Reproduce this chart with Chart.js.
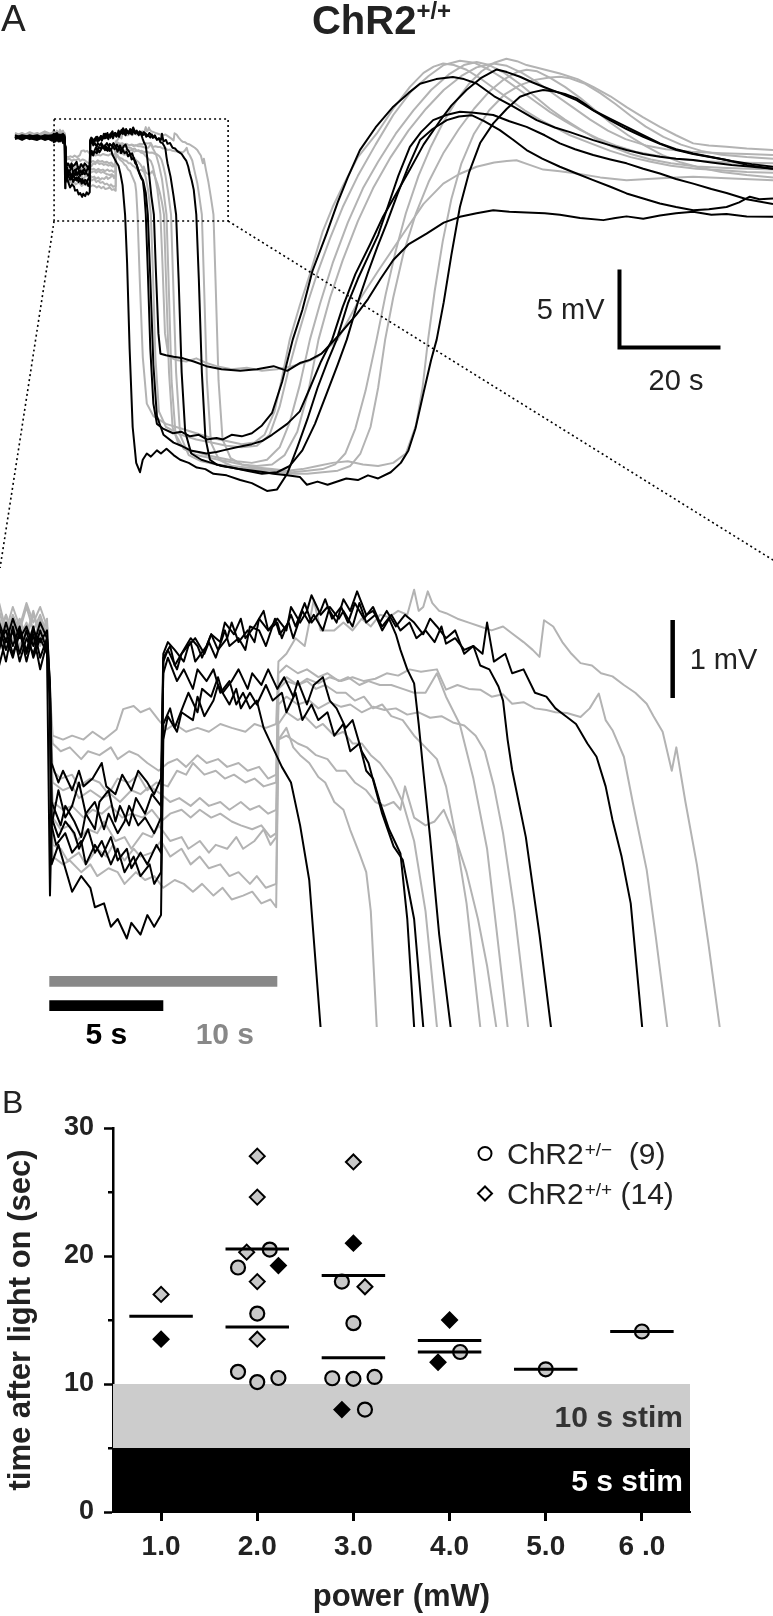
<!DOCTYPE html>
<html>
<head>
<meta charset="utf-8">
<script src="https://cdn.jsdelivr.net/npm/chart.js"></script>
<style>
  html, body { margin: 0; padding: 0; background: #fff; }
  #page { position: relative; width: 773px; height: 1616px; overflow: hidden; font-family: "Liberation Sans", Arial, sans-serif; color: #222; }
  canvas { position: absolute; left: 0; }
  .txt { position: absolute; line-height: 1; white-space: nowrap; }
</style>
</head>
<body>
<div id="page">
  <canvas id="tracesChart" width="773" height="1060" style="top:0"></canvas>
  <canvas id="latencyChart" width="773" height="536" style="top:1080px"></canvas>
  <div class="txt" style="left:1px; top:0; font-size:37px">A</div>
  <div class="txt" style="left:0; top:0; width:763px; text-align:center; font-size:40px; font-weight:bold">ChR2<span style="font-size:24px; position:relative; top:-15px">+/+</span></div>
  <div class="txt" style="left:2px; top:1086px; font-size:32px">B</div>
</div>
<script>
const FONT = '"Liberation Sans", Arial, sans-serif';
Chart.defaults.font.family = FONT;
Chart.defaults.color = '#222';

// ---- panel A: membrane potential traces, [time (s) after light on, mV] ----
// black = 5 s stimulation, grey = 10 s stimulation
const black1 = [[-9.9,0.1],[-8.5,-0.1],[-7,0.15],[-5.5,0.0],[-4,0.1],[-2.6,-0.1],[-2.2,0.15],[-1.9,-0.2],[-1.6,0.25],[-1.3,-0.1],[-1.0,0.2],[-0.7,-0.15],[-0.4,0.1],[-0.1,-0.1],
  [0.03,-3.2],[0.1,-2.3],[0.4,-1.85],[0.7,-2.2],[1.0,-2.05],[1.3,-1.75],[1.6,-2.15],[2.0,-2.35],[2.2,-2.0],[2.6,-1.85],[2.9,-2.25],[3.1,-2.05],[3.5,-2.3],[3.8,-1.95],[4.2,-2.15],[4.5,-1.9],[4.9,-2.05],
  [5.0,-0.35],[5.2,-0.15],[5.6,-0.45],[5.9,-0.3],[6.3,-0.55],[6.5,-0.3],[6.9,-0.45],[7.2,-0.3],[7.5,-0.6],[7.9,-0.45],[8.2,-0.75],[8.5,-0.6],[8.8,-0.8],[9.1,-0.7],[9.4,-1.05],[9.8,-1.3],[10.2,-1.55],[10.6,-1.75],[11.0,-2.3],[11.4,-3.0],[11.9,-4.9],
  [12.3,-8.0],[12.8,-13.5],[13.4,-18.5],[14.1,-20.8],[14.85,-21.4],[15.4,-20.6],[16.2,-20.2],[17.0,-20.4],[18.2,-20.0],[19.0,-20.2],[20.1,-19.9],[21.5,-20.3],[22.8,-20.6],[24.5,-20.8],[26.1,-21.1],[27.8,-21.2],[29.4,-21.5],[32,-21.6],[34.7,-21.9],[37,-22.1],[40,-22.6],[42,-22.5],[44,-21.5],[46,-19.8],[48,-18.0],[50,-16.0],[52,-14.3],[53.8,-12.9],[56,-10.6],[58,-9.0],[60,-7.6],[62,-6.2],[64,-4.3],[66,-2.4],[68.3,-0.54],[70.5,0.4],[72.9,1.17],[75.5,1.5],[78.2,1.71],[81,1.65],[84.8,1.5],[88,1.1],[91.4,0.74],[95,0.2],[98,-0.32],[101,-0.7],[104.6,-1.07],[108,-1.35],[111.2,-1.6],[114.5,-1.95],[117.8,-2.25],[121,-2.6],[124.4,-2.9],[128,-3.25],[131,-3.5],[135,-3.9],[140.2,-4.2]];
const black2 = [[-9.9,0.0],[-8.5,0.15],[-7,-0.05],[-5.5,0.1],[-4,-0.1],[-2.6,0.05],[-2.2,-0.25],[-1.9,0.1],[-1.6,-0.15],[-1.3,0.2],[-1.0,-0.2],[-0.7,0.15],[-0.4,-0.3],[-0.1,0.05],
  [0.03,-0.8],[0.1,-2.8],[0.4,-2.55],[0.8,-2.95],[1.0,-3.15],[1.4,-2.95],[1.8,-3.1],[2.0,-3.35],[2.4,-3.3],[2.7,-3.6],[3.0,-3.5],[3.4,-3.75],[3.6,-3.55],[4.0,-3.7],[4.3,-3.45],[4.6,-3.6],[4.9,-3.45],
  [5.0,-1.2],[5.2,-0.9],[5.6,-1.1],[5.8,-0.85],[6.3,-0.95],[6.5,-0.65],[6.8,-0.9],[7.2,-0.7],[7.4,-0.5],[7.9,-0.75],[8.2,-0.55],[8.4,-0.8],[8.8,-0.6],[9.1,-0.75],[9.5,-0.5],[9.8,-0.7],[10.2,-0.6],[10.4,-0.85],[10.8,-0.6],[11.1,-0.95],[11.5,-0.75],[11.8,-0.95],[12.2,-0.85],[12.5,-1.15],[12.9,-1.0],[13.2,-1.35],[13.6,-1.25],[13.9,-1.6],[14.2,-1.7],[14.5,-2.0],[14.9,-2.35],[15.4,-2.66],[15.7,-3.5],[16.0,-4.88],
  [16.4,-8.5],[16.9,-13.5],[17.5,-17.0],[18.2,-18.3],[19.4,-18.6],[21.4,-18.9],[23,-18.8],[24.75,-19.1],[26.5,-19.0],[28.1,-19.3],[30,-19.2],[31.3,-19.3],[33,-19.0],[35,-19.1],[37,-18.9],[39,-18.4],[41,-17.6],[43,-15.6],[45.1,-12.9],[47,-11.0],[49,-8.5],[51.8,-6.1],[54,-4.1],[56,-2.5],[58.4,-0.75],[61.5,0.7],[65,2.03],[68,2.9],[70.3,3.5],[73.5,3.8],[76.8,3.93],[79,3.8],[81.5,3.52],[85,2.7],[88.8,2.03],[93.4,1.17],[97,0.7],[100,0.4],[104.6,-0.11],[108,-0.45],[111.2,-0.75],[114.5,-1.0],[117.8,-1.18],[121,-1.3],[124.4,-1.39],[128,-1.55],[132,-1.7],[135.5,-1.8],[140.2,-1.95]];
const black3 = [[-9.9,0.2],[-8.5,0.05],[-7,0.1],[-5.5,0.2],[-4,0.0],[-2.6,0.15],[-2.2,0.3],[-1.9,0.05],[-1.6,0.35],[-1.3,0.1],[-1.0,0.25],[-0.7,0.0],[-0.4,0.3],[-0.1,0.1],
  [0.03,-0.5],[0.1,-1.5],[0.4,-1.75],[0.6,-1.6],[1.0,-1.85],[1.3,-1.6],[1.5,-1.8],[1.9,-1.7],[2.3,-1.5],[2.5,-1.8],[2.9,-1.9],[3.2,-1.65],[3.6,-1.85],[3.9,-1.6],[4.3,-1.75],[4.6,-1.9],[4.9,-1.7],
  [5.0,-0.1],[5.2,0.05],[5.5,-0.05],[5.9,-0.2],[6.1,0.0],[6.4,0.1],[6.8,-0.1],[7.0,0.05],[7.3,-0.15],[7.7,0.2],[7.9,0.0],[8.3,0.1],[8.6,-0.05],[8.8,0.25],[9.2,0.2],[9.5,0.0],[9.9,0.35],[10.1,0.15],[10.5,0.3],[10.7,0.1],[11.1,0.45],[11.4,0.3],[11.6,0.4],[12.0,0.2],[12.3,0.5],[12.7,0.35],[12.9,0.45],[13.3,0.25],[13.6,0.55],[13.9,0.3],[14.3,0.4],[14.6,0.2],[14.9,0.35],[15.2,0.15],[15.4,-0.05],[15.7,-0.3],[16.0,-0.48],[16.2,-1.0],[16.4,-1.59],[16.7,-2.45],[17.1,-3.7],[17.6,-4.88],
  [18.0,-8.5],[18.5,-12.5],[18.9,-13.8],[20,-13.9],[21.5,-14.0],[23.4,-14.1],[25.5,-14.3],[28,-14.6],[31,-14.8],[34.7,-14.9],[38,-14.8],[41.3,-14.6],[44,-14.9],[46.5,-14.4],[48.5,-14.2],[50.8,-13.8],[54,-12.7],[57.7,-11.3],[60,-10.3],[62.5,-9.0],[65,-7.8],[68,-6.8],[71.6,-6.1],[75,-5.4],[78.2,-5.03],[81.5,-4.8],[84.8,-4.6],[88,-4.7],[91.4,-4.75],[95,-4.8],[98,-4.9],[102,-5.1],[106.6,-5.24],[109,-5.1],[111.2,-5.0],[114.5,-5.15],[117.8,-4.95],[121,-4.8],[124.4,-4.7],[128,-4.9],[131,-4.85],[135,-5.0],[140.2,-5.03]];
const black4 = [[-9.9,-0.05],[-8.5,0.1],[-7,0.0],[-5.5,-0.1],[-4,0.1],[-2.6,-0.15],[-2.2,0.05],[-1.9,0.2],[-1.6,-0.1],[-1.3,0.15],[-1.0,-0.05],[-0.7,0.25],[-0.4,-0.15],[-0.1,0.1],
  [0.03,-0.6],[0.1,-2.2],[0.4,-2.45],[0.7,-2.25],[1.1,-2.4],[1.3,-2.6],[1.7,-2.35],[2.0,-2.65],[2.3,-2.5],[2.7,-2.8],[3.0,-2.6],[3.3,-2.9],[3.7,-2.7],[4.0,-2.95],[4.4,-2.8],[4.6,-3.05],[4.9,-2.9],
  [5.0,-1.0],[5.3,-0.8],[5.5,-1.05],[5.9,-0.75],[6.1,-0.6],[6.5,-0.85],[6.7,-0.55],[7.1,-0.65],[7.4,-0.4],[7.6,-0.6],[8.0,-0.45],[8.3,-0.3],[8.7,-0.55],[8.9,-0.35],[9.3,-0.5],[9.6,-0.3],[10.0,-0.55],[10.3,-0.4],[10.7,-0.65],[10.9,-0.45],[11.3,-0.75],[11.6,-0.5],[12.0,-0.4],[12.3,-0.7],[12.6,-0.8],[13.0,-1.05],[13.3,-0.95],[13.7,-1.35],[14.0,-1.5],[14.6,-2.15],[15.1,-2.57],[15.5,-2.74],[16.0,-3.5],[16.4,-4.88],
  [16.9,-9.0],[17.5,-14.5],[18.2,-17.8],[19.5,-19.0],[21.5,-19.5],[23,-19.7],[24.8,-20.0],[26.5,-20.1],[28,-20.2],[30,-20.1],[31.3,-20.0],[34,-19.8],[37,-19.6],[39,-19.4],[41,-19.0],[44,-18.3],[46.5,-17.5],[48.5,-16.0],[50.7,-14.3],[52.9,-12.9],[55,-10.8],[57.5,-8.7],[60.4,-6.8],[63,-5.0],[65.5,-3.6],[68.3,-2.0],[71,-0.4],[74.2,1.1],[76.5,2.1],[79.5,3.1],[82.5,3.9],[85.5,4.42],[87.5,4.25],[90.1,3.95],[92.5,3.6],[94.7,3.31],[98,2.9],[101.3,2.45],[104.6,1.8],[107.9,1.17],[111.2,0.6],[114.5,0.1],[117.8,-0.35],[121.1,-0.75],[124.4,-1.0],[127.7,-1.2],[131,-1.39],[135,-1.7],[140.2,-1.95]];
const black5 = [[-9.9,0.1],[-8.5,0.0],[-7,0.2],[-5.5,0.05],[-4,0.15],[-2.6,0.2],[-2.2,-0.05],[-1.9,0.3],[-1.6,0.0],[-1.3,0.25],[-1.0,-0.1],[-0.7,0.2],[-0.4,0.05],[-0.1,0.2],
  [0.03,-0.5],[0.1,-2.0],[0.5,-2.3],[0.7,-2.05],[1.1,-2.25],[1.4,-2.45],[1.6,-2.15],[2.0,-2.0],[2.4,-2.35],[2.6,-2.15],[3.0,-2.4],[3.3,-2.25],[3.5,-2.05],[3.9,-2.3],[4.2,-2.2],[4.6,-2.4],[4.9,-2.2],
  [5.0,-0.2],[5.2,-0.05],[5.6,-0.3],[5.8,-0.1],[6.2,0.05],[6.4,-0.2],[6.9,0.0],[7.1,0.15],[7.4,-0.05],[7.8,0.1],[8.0,0.3],[8.3,0.05],[8.7,0.2],[9.0,0.05],[9.2,0.35],[9.6,0.2],[10.0,0.3],[10.2,0.1],[10.6,0.4],[10.8,0.25],[11.2,0.55],[11.5,0.3],[11.9,0.45],[12.1,0.6],[12.4,0.35],[12.8,0.5],[13.1,0.3],[13.4,0.55],[13.8,0.35],[14.2,0.5],[14.5,0.3],[14.8,0.45],[15.2,0.25],[15.6,0.4],[16.0,0.3],[16.4,0.15],[16.7,0.35],[17.0,0.25],[17.4,0.1],[17.8,0.2],[18.2,-0.1],[18.6,0.0],[18.9,-0.25],[19.3,-0.3],[19.7,-0.52],[19.9,-0.7],[20.1,-1.2],[20.3,-1.59],[20.9,-2.45],[21.5,-3.7],[22.0,-4.88],
  [22.5,-9.0],[23.1,-15.0],[23.8,-18.8],[25,-20.2],[27,-20.6],[29,-20.8],[31,-21.0],[33,-21.1],[36,-21.3],[39,-21.5],[42,-21.4],[44.5,-21.0],[47,-20.0],[49.5,-18.3],[52,-16.2],[54,-14.5],[55.8,-12.9],[58,-10.5],[60,-8.6],[61.8,-7.0],[63.7,-5.45],[65.8,-3.6],[68,-1.8],[70.3,-0.11],[72.8,0.6],[75.6,1.17],[78,1.4],[80.5,1.49],[83,1.1],[86.1,0.53],[88.8,-0.1],[91.4,-0.75],[94.5,-1.3],[98,-1.82],[101.3,-2.25],[104.6,-2.68],[108,-3.1],[111.2,-3.53],[114.5,-3.85],[117.8,-4.17],[121,-4.4],[124.4,-4.6],[127.5,-4.55],[131,-4.4],[133.5,-4.1],[135.6,-3.74],[137.5,-3.9],[140.2,-3.85]];
const black6 = [[-9.9,0.05],[-8.5,0.2],[-7,0.1],[-5.5,0.0],[-4,0.2],[-2.6,0.1],[-2.2,0.25],[-1.9,-0.05],[-1.6,0.2],[-1.3,-0.2],[-1.0,0.1],[-0.7,-0.1],[-0.4,0.2],[-0.1,-0.05],
  [0.03,-0.6],[0.1,-2.3],[0.3,-2.55],[0.7,-2.4],[1.0,-2.65],[1.4,-2.5],[1.6,-2.8],[2.0,-2.55],[2.3,-2.7],[2.7,-2.45],[3.0,-2.75],[3.4,-2.6],[3.6,-2.85],[4.0,-2.65],[4.3,-2.8],[4.7,-2.55],[4.9,-2.65],
  [5.0,-0.15],[5.3,0.0],[5.5,-0.25],[5.9,-0.05],[6.2,0.1],[6.5,0.0],[6.7,-0.15],[7.1,0.15],[7.5,0.05],[7.7,0.3],[8.1,0.15],[8.4,0.35],[8.6,0.1],[9.0,0.25],[9.4,0.45],[9.6,0.2],[10.0,0.35],[10.4,0.2],[10.6,0.5],[11.0,0.3],[11.3,0.45],[11.5,0.65],[11.9,0.4],[12.2,0.5],[12.6,0.3],[12.9,0.6],[13.2,0.45],[13.5,0.7],[13.9,0.4],[14.2,0.45],[14.6,0.25],[15.0,0.4],[15.4,0.2],[15.8,0.3],[16.1,0.1],[16.5,0.2],[16.9,0.05],[17.2,0.25],[17.4,0.03],[17.8,0.1],[18.2,-0.05],[18.6,0.0],[19.0,-0.1],[19.2,0.3],[19.5,-0.2],[20.0,-0.1],[20.3,-0.35],[20.8,-0.3],[21.3,-0.6],[21.8,-0.65],[22.2,-0.8],[22.7,-0.91],[23.1,-1.0],[23.6,-1.25],[24.0,-1.42],[24.4,-1.8],[24.7,-2.23],[25.1,-2.7],[25.5,-3.3],[26.0,-4.88],
  [26.5,-9.0],[27.1,-15.0],[27.8,-19.2],[28.7,-20.6],[30,-20.9],[32,-21.05],[34.5,-21.2],[37.3,-21.3],[39.5,-21.4],[41.25,-21.5],[44,-21.6],[46.5,-21.7],[47.9,-22.2],[50,-22.0],[52,-22.2],[55.7,-21.8],[58,-21.9],[60,-21.6],[62,-21.8],[64.5,-21.4],[66.5,-20.8],[68,-20.0],[69.4,-18.6],[71,-16.3],[72.5,-14.2],[73.6,-12.9],[75,-10.5],[76.5,-7.5],[78.2,-4.4],[80,-2.2],[82.2,-0.3],[84.8,0.96],[87.5,1.9],[90.1,2.67],[92.5,2.95],[94.7,3.1],[97,3.0],[99,2.85],[101.3,2.56],[103,2.2],[104.6,1.81],[108,1.25],[111.2,0.74],[114.5,0.2],[117.8,-0.32],[121,-0.7],[124.4,-0.97],[128,-1.2],[132,-1.45],[136,-1.65],[140.2,-1.82]];

const gray1 = [[-9.9,0.2],[-8.5,0.05],[-7,0.3],[-5.5,0.1],[-4,0.25],[-2.6,0.0],[-2.2,0.3],[-1.9,0.05],[-1.6,0.35],[-1.3,0.1],[-1.0,0.3],[-0.7,0.0],[-0.4,0.25],[-0.1,0.05],
  [0.05,-1.5],[0.15,-2.2],[0.5,-2.35],[0.9,-2.3],[1.2,-2.5],[1.7,-2.35],[2.1,-2.4],[2.4,-2.25],[2.9,-2.5],[3.3,-2.45],[3.6,-2.6],[4.1,-2.4],[4.5,-2.45],[4.8,-2.3],[5.3,-2.5],[5.8,-2.45],[6.1,-2.6],[6.6,-2.5],[7.0,-2.65],[7.3,-2.55],[7.8,-2.6],[8.2,-2.45],[8.5,-2.6],[9.0,-2.5],[9.4,-2.35],[9.7,-2.55],[9.95,-2.45],
  [10.05,-1.2],[10.4,-1.05],[10.7,-1.3],[11.0,-1.4],[11.4,-1.5],[11.8,-1.68],[12.1,-1.75],[12.5,-2.0],[12.9,-2.1],[13.2,-2.36],[13.6,-2.66],[13.9,-2.9],[14.1,-3.4],[14.36,-4.88],
  [14.8,-9.0],[15.4,-14.0],[16.2,-17.0],[17.5,-17.8],[20,-18.3],[23,-18.6],[26,-18.9],[29,-19.2],[32,-19.4],[35,-19.6],[37.5,-19.5],[39.5,-19.0],[41.5,-17.5],[43,-15.3],[44.5,-12.9],[46.5,-10.7],[48.5,-8.7],[51,-6.0],[53,-4.4],[55.1,-3.0],[58,-1.2],[61.7,0.3],[65,1.9],[68.3,3.3],[71,4.2],[73,4.6],[74.9,4.8],[77,4.7],[79.5,4.4],[82,3.9],[85,3.2],[88,2.5],[91,1.8],[94,1.2],[97,0.7],[100,0.2],[104,-0.3],[108,-0.8],[112,-1.2],[116,-1.5],[120,-1.75],[125,-1.95],[130,-2.05],[135,-2.15],[140.2,-2.2]];
const gray2 = [[-9.9,0.1],[-8.5,0.3],[-7,0.05],[-5.5,0.25],[-4,0.0],[-2.6,0.2],[-2.2,-0.05],[-1.9,0.3],[-1.6,0.0],[-1.3,0.25],[-1.0,-0.1],[-0.7,0.2],[-0.4,0.0],[-0.1,0.25],
  [0.05,-1.8],[0.15,-2.55],[0.5,-2.6],[0.8,-2.75],[1.3,-2.65],[1.6,-2.8],[2.1,-2.6],[2.5,-2.7],[2.8,-2.55],[3.3,-2.75],[3.7,-2.6],[4.0,-2.7],[4.5,-2.65],[4.9,-2.5],[5.3,-2.7],[5.8,-2.6],[6.2,-2.8],[6.6,-2.7],[7.0,-2.85],[7.5,-2.8],[7.9,-2.95],[8.3,-2.9],[8.8,-3.05],[9.1,-2.95],[9.5,-3.1],[9.95,-3.05],
  [10.05,-1.0],[10.4,-0.85],[10.9,-0.95],[11.2,-0.9],[11.7,-1.05],[12.0,-1.0],[12.5,-1.15],[12.9,-1.1],[13.3,-1.25],[13.7,-1.25],[14.1,-1.4],[14.5,-1.5],[15.0,-1.7],[15.5,-2.0],[16.0,-2.5],[16.5,-3.4],[17.0,-4.88],
  [17.4,-8.5],[17.9,-14.0],[18.6,-17.5],[20,-18.5],[23,-19.0],[26,-19.3],[29,-19.5],[32,-19.7],[35,-19.8],[38,-19.7],[40.5,-19.0],[42.5,-17.2],[44.3,-14.8],[45.9,-12.9],[48,-10.6],[50,-8.6],[52.5,-6.4],[55,-4.4],[58,-2.4],[61.5,-0.4],[65,1.5],[68.5,3.0],[72,4.0],[75,4.7],[78.2,4.98],[81,4.85],[84,4.4],[87,3.8],[90,3.1],[93,2.4],[96,1.7],[99,1.1],[102,0.55],[105.5,0.0],[109,-0.45],[113,-0.85],[117,-1.1],[121,-1.3],[126,-1.45],[132,-1.55],[140.2,-1.6]];
const gray3 = [[-9.9,0.25],[-8.5,0.1],[-7,0.2],[-5.5,0.35],[-4,0.1],[-2.6,0.3],[-2.2,0.1],[-1.9,0.4],[-1.6,0.15],[-1.3,0.35],[-1.0,0.1],[-0.7,0.4],[-0.4,0.15],[-0.1,0.3],
  [0.05,-1.0],[0.15,-1.6],[0.5,-1.7],[1.0,-1.65],[1.3,-1.8],[1.8,-1.7],[2.2,-1.75],[2.6,-1.9],[3.0,-1.7],[3.5,-1.75],[3.9,-1.65],[4.3,-1.85],[4.7,-1.75],[5.2,-1.8],[5.6,-1.6],[6.0,-1.65],[6.3,-1.5],[6.8,-1.65],[7.3,-1.6],[7.7,-1.7],[8.1,-1.65],[8.6,-1.75],[9.0,-1.7],[9.4,-1.8],[9.95,-1.75],
  [10.05,-0.5],[10.4,-0.4],[10.9,-0.5],[11.3,-0.45],[11.7,-0.55],[12.1,-0.5],[12.6,-0.6],[13.0,-0.6],[13.4,-0.7],[13.8,-0.65],[14.2,-0.8],[14.6,-0.75],[15.0,-0.9],[15.5,-0.95],[16.0,-1.15],[16.5,-1.3],[17.0,-1.45],[17.4,-1.8],[17.8,-2.4],[18.3,-3.3],[18.9,-4.88],
  [19.3,-8.0],[19.8,-12.5],[20.5,-14.0],[22,-14.2],[24,-14.3],[26,-14.1],[28,-14.4],[30,-14.6],[33,-14.8],[36,-14.7],[39,-14.9],[42,-14.8],[45,-14.6],[48,-14.3],[50,-14.0],[54,-12.9],[58,-10.5],[62,-8.5],[67,-6.1],[71,-4.2],[74.9,-2.9],[78,-2.3],[81.5,-1.82],[85,-1.55],[87.5,-1.45],[89.4,-1.4],[92,-1.7],[94.7,-2.0],[98,-2.1],[101.3,-2.25],[106,-2.5],[111.2,-2.68],[118,-2.55],[124.4,-2.46],[131,-2.55],[140.2,-2.68]];
const gray4 = [[-9.9,0.0],[-8.5,0.2],[-7,0.1],[-5.5,-0.05],[-4,0.15],[-2.6,0.05],[-2.2,0.2],[-1.9,-0.05],[-1.6,0.25],[-1.3,0.0],[-1.0,0.2],[-0.7,0.05],[-0.4,0.3],[-0.1,0.0],
  [0.05,-2.0],[0.15,-2.7],[0.6,-2.8],[0.9,-2.75],[1.4,-2.9],[1.8,-2.8],[2.1,-2.95],[2.6,-2.85],[3.0,-2.9],[3.3,-3.05],[3.8,-2.9],[4.2,-3.0],[4.6,-2.95],[5.0,-3.1],[5.5,-3.0],[5.9,-3.05],[6.3,-3.15],[6.7,-3.05],[7.2,-3.2],[7.6,-3.1],[8.0,-3.25],[8.5,-3.2],[8.9,-3.15],[9.3,-3.3],[9.7,-3.25],[9.95,-3.35],
  [10.05,-1.2],[10.4,-1.15],[10.9,-1.25],[11.3,-1.3],[11.7,-1.4],[12.2,-1.45],[12.6,-1.6],[13.0,-1.6],[13.4,-1.75],[13.9,-1.85],[14.3,-2.0],[14.7,-2.05],[15.1,-2.0],[15.4,-2.1],[15.6,-1.8],[16.0,-2.2],[16.5,-2.3],[16.9,-2.25],[17.3,-2.1],[17.8,-2.45],[18.3,-2.9],[18.8,-3.5],[19.2,-4.1],[19.6,-4.88],
  [20.0,-9.0],[20.6,-15.0],[21.3,-18.5],[22.5,-19.6],[25,-20.0],[28,-20.3],[31,-20.5],[34,-20.7],[37,-20.8],[40,-20.6],[42.5,-19.8],[44.5,-18.2],[46.5,-15.8],[48.5,-12.9],[50.5,-10.6],[53,-8.0],[56,-5.4],[59,-3.2],[62,-1.5],[65.5,0.3],[69,1.8],[72.5,3.1],[76,4.1],[79,4.7],[81.5,4.9],[84,4.7],[87,4.2],[90,3.5],[93,2.7],[96,1.9],[99,1.2],[102,0.6],[105,0.0],[108.5,-0.55],[112,-1.0],[116,-1.35],[120,-1.6],[125,-1.8],[131,-1.9],[140.2,-2.0]];
const gray5 = [[-9.9,0.15],[-8.5,0.35],[-7,0.1],[-5.5,0.3],[-4,0.05],[-2.6,0.35],[-2.2,0.1],[-1.9,0.4],[-1.6,0.05],[-1.3,0.3],[-1.0,0.15],[-0.7,0.45],[-0.4,0.1],[-0.1,0.35],
  [0.05,-0.9],[0.15,-1.25],[0.5,-1.35],[0.9,-1.3],[1.4,-1.45],[1.7,-1.35],[2.2,-1.4],[2.7,-1.3],[3.0,-1.45],[3.5,-1.35],[3.9,-1.4],[4.3,-1.5],[4.8,-1.6],[5.2,-1.5],[5.6,-1.45],[6.0,-1.55],[6.5,-1.4],[6.9,-1.5],[7.4,-1.45],[7.8,-1.55],[8.3,-1.5],[8.7,-1.6],[9.2,-1.55],[9.6,-1.7],[9.95,-1.65],
  [10.05,-0.35],[10.4,-0.25],[10.9,-0.35],[11.3,-0.3],[11.8,-0.4],[12.2,-0.35],[12.7,-0.45],[13.1,-0.4],[13.6,-0.5],[14.0,-0.45],[14.5,-0.5],[15.0,-0.5],[15.5,-0.55],[16.0,-0.6],[16.5,-0.6],[17.0,-0.35],[17.4,-0.65],[18.0,-1.0],[18.6,-1.7],[19.2,-2.6],[19.6,-3.6],[20.1,-4.88],
  [20.5,-9.0],[21.1,-15.5],[21.9,-19.0],[23.5,-19.9],[26,-20.3],[29,-20.5],[32,-20.7],[35,-20.9],[38,-21.0],[41,-20.9],[43.5,-20.3],[46,-18.8],[48.2,-16.2],[50.2,-12.9],[52.5,-10.2],[55,-7.8],[58,-5.3],[61,-3.2],[64.5,-1.2],[68,0.5],[71.5,1.9],[75,3.1],[78.5,4.0],[81.5,4.55],[84.8,4.8],[87.5,4.65],[90.5,4.2],[93.5,3.6],[97,2.8],[100.5,2.0],[104,1.2],[107.5,0.5],[111,-0.05],[115,-0.45],[119,-0.7],[124,-0.85],[130,-0.95],[135,-1.0],[140.2,-1.07]];
const gray6 = [[-9.9,0.05],[-8.5,0.25],[-7,0.15],[-5.5,0.0],[-4,0.3],[-2.6,0.1],[-2.2,0.35],[-1.9,0.1],[-1.6,0.3],[-1.3,-0.05],[-1.0,0.25],[-0.7,0.05],[-0.4,0.35],[-0.1,0.1],
  [0.05,-1.2],[0.15,-1.75],[0.6,-1.85],[1.0,-1.8],[1.3,-1.95],[1.8,-1.85],[2.3,-1.95],[2.7,-1.9],[3.1,-2.0],[3.6,-1.85],[4.0,-1.9],[4.4,-1.8],[4.9,-1.9],[5.3,-2.0],[5.7,-1.95],[6.2,-2.05],[6.6,-1.95],[7.0,-2.05],[7.5,-2.0],[7.9,-2.1],[8.4,-2.0],[8.8,-2.1],[9.2,-2.05],[9.6,-2.15],[9.95,-2.1],
  [10.05,-0.75],[10.4,-0.65],[10.9,-0.75],[11.4,-0.7],[11.8,-0.8],[12.3,-0.72],[12.8,-0.78],[13.2,-0.75],[13.7,-0.85],[14.2,-0.78],[14.7,-0.82],[15.2,-0.8],[15.7,-0.88],[16.2,-0.85],[16.7,-0.92],[17.2,-0.9],[17.7,-0.98],[18.2,-1.02],[18.7,-1.15],[19.1,-1.35],[19.5,-1.8],[19.9,-2.4],[20.4,-3.4],[21.0,-4.88],
  [21.4,-9.0],[22.0,-15.0],[22.8,-19.0],[24.5,-20.3],[27,-20.7],[30,-20.9],[33,-21.0],[36,-21.1],[39,-21.2],[42,-21.3],[45,-21.4],[48,-21.3],[51,-21.2],[53.5,-20.9],[55.5,-20.2],[57.5,-18.6],[59.5,-16.2],[61.7,-12.9],[63.5,-10.0],[65.5,-7.2],[67.5,-4.8],[70,-2.4],[72.5,-0.5],[75,1.1],[77.5,2.4],[80,3.5],[82.5,4.3],[85,4.85],[87.4,5.1],[89.5,4.95],[91.4,4.7],[94.5,4.45],[98,4.16],[101.5,3.8],[104.6,3.3],[108,2.7],[111.2,2.0],[114.5,1.35],[117.8,0.74],[121,0.2],[124.4,-0.32],[127.5,-0.45],[131,-0.54],[135,-0.65],[140.2,-0.75]];
const gray7 = [[-9.9,0.3],[-8.5,0.1],[-7,0.35],[-5.5,0.15],[-4,0.4],[-2.6,0.2],[-2.2,0.45],[-1.9,0.15],[-1.6,0.4],[-1.3,0.2],[-1.0,0.5],[-0.7,0.2],[-0.4,0.4],[-0.1,0.15],
  [0.05,-1.4],[0.15,-2.0],[0.6,-2.1],[1.0,-2.05],[1.5,-2.2],[1.9,-2.1],[2.3,-2.15],[2.7,-2.05],[3.2,-2.2],[3.6,-2.15],[4.1,-2.2],[4.5,-2.1],[4.9,-2.25],[5.3,-2.15],[5.8,-2.1],[6.2,-2.2],[6.6,-2.1],[7.1,-2.2],[7.5,-2.15],[8.0,-2.25],[8.4,-2.3],[8.9,-2.35],[9.3,-2.3],[9.7,-2.45],[9.95,-2.4],
  [10.05,-0.55],[10.4,-0.45],[10.9,-0.5],[11.3,-0.42],[11.8,-0.48],[12.3,-0.4],[12.8,-0.45],[13.3,-0.4],[13.8,-0.45],[14.3,-0.42],[14.8,-0.35],[15.3,-0.38],[15.8,-0.3],[16.3,-0.33],[17.0,-0.3],[17.4,-0.56],[17.9,-0.5],[18.4,-0.55],[18.9,-0.56],[19.4,-0.65],[19.9,-0.62],[20.3,-0.74],[20.8,-0.72],[21.3,-0.8],[21.8,-0.82],[22.2,-0.85],[22.7,-0.86],[23.3,-0.91],[23.7,-0.8],[24.1,-0.61],[24.4,-0.95],[24.7,-1.08],[25.2,-1.42],[25.6,-2.02],[26.2,-2.87],[26.6,-3.73],[27.1,-4.88],
  [27.5,-9.0],[28.1,-15.5],[28.9,-19.5],[30.5,-20.6],[33,-21.0],[36,-21.2],[39,-21.3],[42,-21.4],[45,-21.5],[48,-21.5],[51,-21.4],[54,-21.3],[56.5,-21.0],[58.5,-20.2],[60.5,-18.5],[62,-16.0],[63.4,-12.9],[65,-10.2],[67,-7.4],[69.5,-4.8],[72,-2.8],[75,-0.9],[78,0.6],[81,1.9],[84,3.0],[87,3.8],[89.5,4.25],[91.4,4.4],[93.5,4.3],[96,3.9],[99,3.3],[102,2.6],[105,1.8],[108,1.0],[111.5,0.2],[115,-0.5],[118.5,-1.1],[122,-1.55],[126,-1.9],[130,-2.15],[135,-2.35],[140.2,-2.5]];
const gray8 = [[-9.9,0.35],[-8.5,0.15],[-7,0.4],[-5.5,0.2],[-4,0.45],[-2.6,0.25],[-2.2,0.55],[-1.9,0.2],[-1.6,0.5],[-1.3,0.25],[-1.0,0.55],[-0.7,0.3],[-0.4,0.5],[-0.1,0.25],
  [0.05,-0.7],[0.15,-1.15],[0.6,-1.2],[1.0,-1.15],[1.5,-1.2],[1.9,-1.1],[2.4,-1.2],[2.95,-1.07],[3.24,-0.81],[3.7,-0.77],[4.0,-0.85],[4.4,-0.8],[4.8,-0.95],[5.15,-1.07],[5.5,-1.0],[6.0,-1.1],[6.5,-1.05],[7.0,-1.1],[7.5,-1.0],[8.0,-1.05],[8.6,-1.1],[9.0,-1.0],[9.5,-1.05],[9.95,-1.0],
  [10.05,-0.2],[10.4,-0.1],[10.8,0.1],[11.2,0.0],[11.6,0.59],[11.9,0.2],[12.5,0.2],[12.9,0.3],[13.3,0.2],[13.7,0.35],[14.1,0.25],[14.5,0.4],[14.9,0.37],[15.3,0.45],[15.7,0.4],[16.0,0.72],[16.2,0.45],[16.4,0.5],[16.6,0.7],[16.8,0.55],[17.1,0.45],[17.4,0.42],[17.9,0.35],[18.4,0.3],[18.9,0.25],[19.4,0.2],[19.9,0.25],[20.3,0.16],[20.8,0.05],[21.2,-0.05],[21.5,-0.14],[21.7,0.33],[22.1,0.25],[22.5,0.05],[22.9,-0.1],[23.3,-0.22],[23.8,-0.25],[24.2,-0.35],[24.7,-0.39],[25.2,-0.5],[25.7,-0.6],[26.2,-0.74],[26.5,-0.9],[26.9,-1.1],[27.3,-1.6],[27.5,-1.3],[27.9,-2.0],[28.4,-2.8],[28.9,-3.8],[29.4,-4.88],
  [29.8,-9.0],[30.4,-15.5],[31.2,-19.3],[32.8,-20.5],[35,-20.9],[38,-21.1],[41,-21.2],[44,-21.3],[47,-21.2],[50,-21.0],[53,-20.8],[56,-20.7],[59,-20.9],[62,-21.0],[65,-20.8],[67.5,-20.2],[69.5,-18.4],[70.8,-16.0],[71.9,-12.9],[73.2,-9.8],[74.8,-6.6],[76.5,-3.9],[78.5,-1.6],[81,0.3],[84,1.8],[87,2.8],[90,3.4],[93,3.75],[96,3.9],[98,3.95],[100,3.85],[103,3.5],[106,2.9],[109,2.2],[112,1.45],[115,0.75],[118.5,0.1],[122,-0.4],[126,-0.8],[130,-1.05],[135,-1.2],[140.2,-1.3]];

const stimDurations = [5, 10];        // s
const scaleBarValues = { mV: 5, s: 20, zoomMV: 1 };

// ---- panel B: time after light on (s) of each experiment ----
const powerLevels = [1, 2, 3, 4, 5, 6];
const powerLabels = ['1.0', '2.0', '3.0', '4.0', '5.0', '6 .0'];
const hetPoints = [[2.13,20.5],[1.80,19.1],[2.0,15.5],[1.80,10.95],[2.0,10.15],[2.22,10.47],
  [2.88,18.0],[3.0,14.75],[2.78,10.45],[3.0,10.4],[3.22,10.55],[3.12,8.0],[4.11,12.5],[5.0,11.15],[6.0,14.1]];
const hom10sPoints = [[1.0,17.0],[2.0,27.8],[2.0,24.6],[1.89,20.3],[2.0,18.0],[2.0,13.5],[3.0,27.35],[3.12,17.6]];
const hom5sPoints = [[1.0,13.5],[2.22,19.25],[3.0,21.0],[2.88,8.0],[4.0,15.0],[3.88,11.7]];
const hetMeans = [null, 14.45, 12.05, 12.5, 11.15, 14.1];
const homMeans = [15.3, 20.55, 18.47, 13.4, null, null];
const yTickValues = [0, 10, 20, 30];
const yMinorTicks = [5, 15, 25];

// ---- layout of panel A (data units of each view) ----
const zoomWindow = { t0: -2.16, t1: 32.3, vBottom: -5.3, vTop: 1.24, vLowEdge: 1.0 };
const scaleBarTop = { t: 109.8, v: -8.4 };
const scaleBarLow = { t: 27.34, v: 0.333 };
const stimBarLevel = { 10: -4.30, 5: -4.61 };
const GRAY = '#b3b3b3';

function traceSet(trace, color, xID, yID, width) {
  return { data: trace.slice(), xAxisID: xID, yAxisID: yID, borderColor: color,
    borderWidth: width, pointRadius: 0, fill: false, tension: 0, borderJoinStyle: 'round' };
}
function barSet(points, color, width, xID, yID, dash) {
  return { data: points, xAxisID: xID, yAxisID: yID, borderColor: color, borderWidth: width,
    pointRadius: 0, fill: false, borderCapStyle: 'butt', borderJoinStyle: 'miter', borderDash: dash || [] };
}

const blackTraces = [black1, black2, black3, black4, black5, black6];
const grayTraces = [gray1, gray2, gray3, gray4, gray5, gray6, gray7, gray8];

const aSets = [
  barSet([[zoomWindow.t0, zoomWindow.vTop], [zoomWindow.t1, zoomWindow.vTop], [zoomWindow.t1, zoomWindow.vBottom],
    [zoomWindow.t0, zoomWindow.vBottom], [zoomWindow.t0, zoomWindow.vTop]], '#000', 1.6, 'xTop', 'yTop', [2, 3]),
  barSet([[scaleBarTop.t, scaleBarTop.v], [scaleBarTop.t, scaleBarTop.v - scaleBarValues.mV],
    [scaleBarTop.t + scaleBarValues.s, scaleBarTop.v - scaleBarValues.mV]], '#000', 4, 'xTop', 'yTop'),
  barSet([[scaleBarLow.t, scaleBarLow.v], [scaleBarLow.t, scaleBarLow.v - scaleBarValues.zoomMV]], '#000', 4.5, 'xLow', 'yLow'),
  barSet([[0, stimBarLevel[5]], [stimDurations[0], stimBarLevel[5]]], '#000', 10.7, 'xLow', 'yLow'),
  barSet([[0, stimBarLevel[10]], [stimDurations[1], stimBarLevel[10]]], '#888', 10.7, 'xLow', 'yLow')
];
blackTraces.forEach(tr => aSets.push(traceSet(tr, '#000', 'xLow', 'yLow', 2)));
blackTraces.forEach(tr => aSets.push(traceSet(tr, '#000', 'xTop', 'yTop', 2)));
grayTraces.forEach(tr => aSets.push(traceSet(tr, GRAY, 'xLow', 'yLow', 2)));
grayTraces.forEach(tr => aSets.push(traceSet(tr, GRAY, 'xTop', 'yTop', 2)));

const traceDecor = {
  id: 'traceDecor',
  afterDatasetsDraw(chart) {
    const { ctx, scales: s } = chart;
    ctx.save();
    // dotted lines from the boxed region to the enlarged view
    ctx.setLineDash([2, 3]);
    ctx.lineWidth = 1.6;
    ctx.strokeStyle = '#000';
    [zoomWindow.t0, zoomWindow.t1].forEach(t => {
      ctx.beginPath();
      ctx.moveTo(s.xTop.getPixelForValue(t), s.yTop.getPixelForValue(zoomWindow.vBottom));
      ctx.lineTo(s.xLow.getPixelForValue(t), s.yLow.getPixelForValue(zoomWindow.vLowEdge));
      ctx.stroke();
    });
    ctx.setLineDash([]);

    ctx.fillStyle = '#222';
    ctx.font = '29px ' + FONT;
    const bx = s.xTop.getPixelForValue(scaleBarTop.t);
    const by0 = s.yTop.getPixelForValue(scaleBarTop.v);
    const by1 = s.yTop.getPixelForValue(scaleBarTop.v - scaleBarValues.mV);
    const bx1 = s.xTop.getPixelForValue(scaleBarTop.t + scaleBarValues.s);
    ctx.textAlign = 'right';
    ctx.fillText(scaleBarValues.mV + ' mV', bx - 15, (by0 + by1) / 2 + 10.4);
    ctx.textAlign = 'center';
    ctx.fillText(scaleBarValues.s + ' s', (bx + bx1) / 2 + 6, by1 + 43);

    const lx = s.xLow.getPixelForValue(scaleBarLow.t);
    const ly0 = s.yLow.getPixelForValue(scaleBarLow.v);
    const ly1 = s.yLow.getPixelForValue(scaleBarLow.v - scaleBarValues.zoomMV);
    ctx.textAlign = 'left';
    ctx.fillText(scaleBarValues.zoomMV + ' mV', lx + 17, (ly0 + ly1) / 2 + 10.4);

    ctx.font = 'bold 30px ' + FONT;
    ctx.textAlign = 'center';
    const sy = s.yLow.getPixelForValue(stimBarLevel[5]) + 38;
    ctx.fillStyle = '#000';
    ctx.fillText(stimDurations[0] + ' s', s.xLow.getPixelForValue(stimDurations[0] / 2), sy);
    ctx.fillStyle = '#888';
    ctx.fillText(stimDurations[1] + ' s', s.xLow.getPixelForValue(7.7), sy);
    ctx.restore();
  }
};

new Chart(document.getElementById('tracesChart'), {
  type: 'line',
  data: { datasets: aSets },
  options: {
    responsive: false,
    animation: false,
    events: [],
    layout: { padding: { left: 0, right: 0, top: 0, bottom: 33 } },
    plugins: { legend: { display: false }, tooltip: { enabled: false } },
    scales: {
      xTop: { type: 'linear', axis: 'x', display: false, min: -12.87, max: 140.2 },
      yTop: { type: 'linear', axis: 'y', display: false, min: -56.96, max: 8.87 },
      xLow: { type: 'linear', axis: 'x', display: false, min: -2.162, max: 31.74 },
      yLow: { type: 'linear', axis: 'y', display: false, min: -4.885, max: 8.282 }
    }
  },
  plugins: [traceDecor]
});

// ---- panel B ----
const MEAN_HALF = 0.33;
function meanSegments(means) {
  const out = [];
  means.forEach((m, i) => {
    if (m === null) return;
    const p = powerLevels[i];
    out.push({ x: p - MEAN_HALF, y: m }, { x: p + MEAN_HALF, y: m }, { x: p + 0.4, y: null });
  });
  return out;
}
const toXY = arr => arr.map(p => ({ x: p[0], y: p[1] }));
const xMin = 0.5, xMax = 6.5;

const legendRows = [
  { shape: 'circle', name: 'ChR2', sup: '+/\u2212', n: '  (9)' },
  { shape: 'diamond', name: 'ChR2', sup: '+/+', n: ' (14)' }
];

const latencyDecor = {
  id: 'latencyDecor',
  afterDatasetsDraw(chart) {
    const { ctx, chartArea: a, scales: { y } } = chart;
    ctx.save();
    ctx.font = 'bold 30px ' + FONT;
    ctx.textAlign = 'right';
    ctx.textBaseline = 'alphabetic';
    ctx.fillStyle = '#333';
    ctx.fillText(stimDurations[1] + ' s stim', a.right - 7, y.getPixelForValue((stimDurations[0] + stimDurations[1]) / 2) + 10.7);
    ctx.fillStyle = '#fff';
    ctx.fillText(stimDurations[0] + ' s stim', a.right - 7, y.getPixelForValue(stimDurations[0] / 2) + 10.7);

    ctx.strokeStyle = '#000';
    ctx.lineWidth = 2.5;
    yMinorTicks.forEach(v => {
      const py = Math.round(y.getPixelForValue(v)) + 0.25;
      ctx.beginPath();
      ctx.moveTo(a.left - 5, py);
      ctx.lineTo(a.left, py);
      ctx.stroke();
    });

    const lx = a.left + 372, ly = a.top + 36;
    legendRows.forEach((row, i) => {
      const base = ly + i * 40;
      const cy = base - 10.5;
      ctx.lineWidth = 2;
      ctx.strokeStyle = '#000';
      ctx.fillStyle = '#fff';
      ctx.beginPath();
      if (row.shape === 'circle') {
        ctx.arc(lx, cy, 6.5, 0, Math.PI * 2);
      } else {
        ctx.moveTo(lx - 7, cy); ctx.lineTo(lx, cy - 7); ctx.lineTo(lx + 7, cy); ctx.lineTo(lx, cy + 7);
        ctx.closePath();
      }
      ctx.fill();
      ctx.stroke();
      ctx.fillStyle = '#222';
      ctx.textAlign = 'left';
      let tx = lx + 22;
      ctx.font = '30px ' + FONT;
      ctx.fillText(row.name, tx, base);
      tx += ctx.measureText(row.name).width + 1;
      ctx.font = '19px ' + FONT;
      ctx.fillText(row.sup, tx, base - 8);
      tx += ctx.measureText(row.sup).width;
      ctx.font = '30px ' + FONT;
      ctx.fillText(row.n, tx, base);
    });
    ctx.restore();
  }
};

new Chart(document.getElementById('latencyChart'), {
  type: 'scatter',
  data: {
    datasets: [
      { type: 'line', data: meanSegments(homMeans), borderColor: '#000', borderWidth: 3, pointRadius: 0, spanGaps: false, borderCapStyle: 'butt' },
      { type: 'line', data: meanSegments(hetMeans), borderColor: '#000', borderWidth: 3, pointRadius: 0, spanGaps: false, borderCapStyle: 'butt' },
      { data: toXY(hom5sPoints), pointStyle: 'rectRot', pointRadius: 7.5, pointBackgroundColor: '#000', pointBorderColor: '#000', pointBorderWidth: 2, backgroundColor: '#000', borderColor: '#000' },
      { data: toXY(hom10sPoints), pointStyle: 'rectRot', pointRadius: 7.5, pointBackgroundColor: '#c8c8c8', pointBorderColor: '#000', pointBorderWidth: 2, backgroundColor: '#c8c8c8', borderColor: '#000' },
      { data: toXY(hetPoints), pointStyle: 'circle', pointRadius: 7, pointBackgroundColor: '#c8c8c8', pointBorderColor: '#000', pointBorderWidth: 2.2, backgroundColor: '#c8c8c8', borderColor: '#000' },
      { type: 'line', data: [{ x: xMin, y: stimDurations[1] }, { x: xMax, y: stimDurations[1] }], borderWidth: 0, pointRadius: 0, fill: { value: stimDurations[0] }, backgroundColor: '#cccccc' },
      { type: 'line', data: [{ x: xMin, y: stimDurations[0] }, { x: xMax, y: stimDurations[0] }], borderWidth: 0, pointRadius: 0, fill: { value: 0 }, backgroundColor: '#000' }
    ]
  },
  options: {
    responsive: false,
    animation: false,
    events: [],
    layout: { padding: { left: 0, right: 83, top: 48, bottom: 0 } },
    plugins: { legend: { display: false }, tooltip: { enabled: false } },
    scales: {
      x: {
        type: 'linear', min: xMin, max: xMax,
        afterBuildTicks: s => { s.ticks = powerLevels.map(v => ({ value: v })); },
        afterFit: s => { s.height = 104; },
        ticks: { callback: v => powerLabels[powerLevels.indexOf(v)], font: { size: 28, weight: 'bold' }, color: '#222', padding: 9, maxRotation: 0, autoSkip: false },
        grid: { drawOnChartArea: false, drawTicks: true, tickLength: 9, tickWidth: 3, tickColor: '#000' },
        border: { display: true, color: '#000', width: 2 },
        title: { display: true, text: 'power (mW)', font: { size: 31, weight: 'bold' }, color: '#222', padding: { top: 0, bottom: 0 } }
      },
      y: {
        type: 'linear', min: 0, max: 30,
        afterBuildTicks: s => { s.ticks = yTickValues.map(v => ({ value: v })); },
        afterFit: s => { s.width = 113; },
        ticks: { font: { size: 27, weight: 'bold' }, color: '#222', padding: 10 },
        grid: { drawOnChartArea: false, drawTicks: true, tickLength: 9, tickWidth: 2.5, tickColor: '#000' },
        border: { display: true, color: '#000', width: 2.5 },
        title: { display: true, text: 'time after light on (sec)', font: { size: 31, weight: 'bold' }, color: '#222', padding: { top: 3, bottom: 0 } }
      }
    }
  },
  plugins: [latencyDecor]
});
</script>
</body>
</html>
